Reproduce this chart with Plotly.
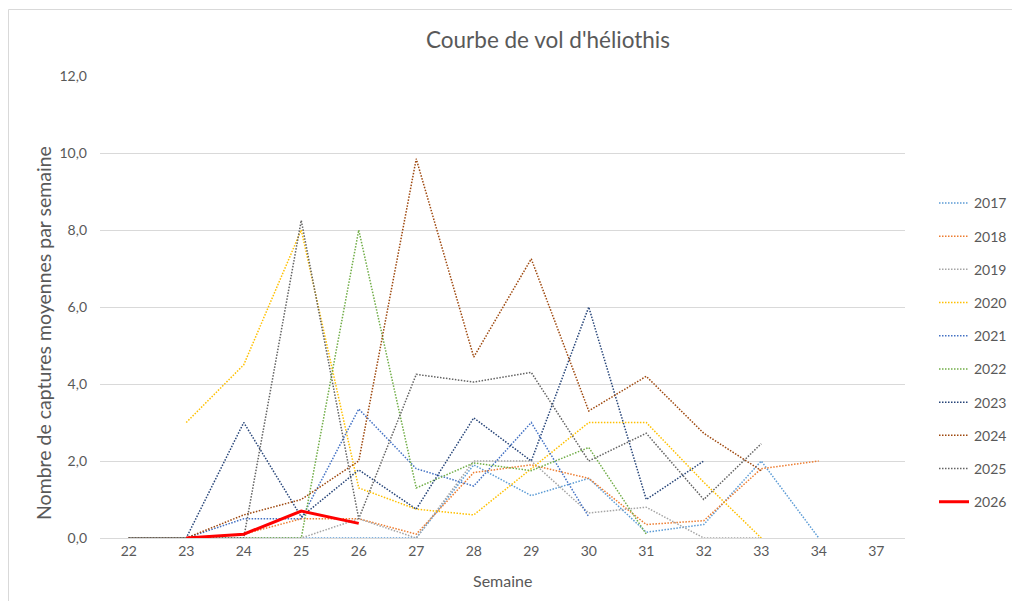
import plotly.graph_objects as go

weeks = ["22", "23", "24", "25", "26", "27", "28", "29", "30", "31", "32", "33", "34", "37"]

y2017 = [0, 0, 0, 0, 0, 0, 1.9, 1.1, 1.55, 0.15, 0.35, 2.0, 0, None]
y2018 = [0, 0, 0.1, 0.5, 0.5, 0.1, 1.7, 1.9, 1.55, 0.35, 0.45, 1.8, 2.0, None]
y2019 = [0, 0, 0, 0, 0.5, 0, 2.0, 2.0, 0.65, 0.8, 0, 0, None, None]
y2020 = [None, 3.0, 4.5, 8.0, 1.3, 0.75, 0.6, 1.8, 3.0, 3.0, 1.45, 0, None, None]
y2021 = [0, 0, 0.5, 0.5, 3.35, 1.8, 1.35, 3.0, 0.55, None, None, None, None, None]
y2022 = [0, 0, 0, 0, 8.0, 1.3, 1.95, 1.75, 2.35, 0.1, None, None, None, None]
y2023 = [0, 0, 3.0, 0.55, 1.77, 0.75, 3.12, 2.0, 6.0, 1.0, 2.0, None, None, None]
y2024 = [0, 0, 0.6, 1.0, 2.0, 9.85, 4.7, 7.25, 3.3, 4.2, 2.72, 1.75, None, None]
y2025 = [0, 0, 0, 8.25, 0.5, 4.25, 4.05, 4.3, 2.0, 2.72, 1.0, 2.45, None, None]
y2026 = [None, 0, 0.1, 0.7, 0.38, None, None, None, None, None, None, None, None, None]

series = [
    ("2017", y2017, "#5B9BD5"),
    ("2018", y2018, "#ED7D31"),
    ("2019", y2019, "#A5A5A5"),
    ("2020", y2020, "#FFC000"),
    ("2021", y2021, "#4472C4"),
    ("2022", y2022, "#70AD47"),
    ("2023", y2023, "#264478"),
    ("2024", y2024, "#9E480E"),
    ("2025", y2025, "#636363"),
]

FONT = "Lato"
GREY = "#595959"

# figure is offset by the page's 8px body margin; work in figure coordinates
W, H = 1004, 593
L, T, PW, PH = 92, 68, 805, 462
R = W - L - PW
B = H - T - PH


def px(xf):
    return (xf - L) / PW


def py(yf):
    return (T + PH - yf) / PH


fig = go.Figure()
for name, ys, col in series:
    fig.add_trace(go.Scatter(
        x=weeks, y=ys, name=name, mode="lines", legendgroup=name,
        line=dict(color=col, width=1.5, dash="1.5px,1.5px"), connectgaps=False,
    ))
fig.add_trace(go.Scatter(
    x=weeks, y=y2026, name="2026", mode="lines", legendgroup="2026",
    line=dict(color="#FF0000", width=3), connectgaps=False,
))

fig.update_layout(
    width=W, height=H,
    paper_bgcolor="white", plot_bgcolor="white",
    margin=dict(l=L, r=R, t=T, b=B, autoexpand=False),
    separators=",.",
    font=dict(family=FONT, color=GREY, size=14),
    title=dict(text="Courbe de vol d'héliothis", x=540 / W, xref="container", xanchor="center",
               y=1 - 32 / H, yref="container", yanchor="middle",
               font=dict(family=FONT, size=22.5, color=GREY)),
    xaxis=dict(type="category", categoryorder="array", categoryarray=weeks,
               range=[-0.5, len(weeks) - 0.5], showgrid=False, showline=True,
               linecolor="#D9D9D9", linewidth=1, ticks="", zeroline=False,
               tickfont=dict(family=FONT, size=14, color=GREY)),
    yaxis=dict(range=[0, 12], dtick=2, tickformat=".1f", showgrid=True,
               gridcolor="#D9D9D9", gridwidth=1, zeroline=False, showline=False,
               ticks="", ticklabelstandoff=12,
               tickfont=dict(family=FONT, size=14, color=GREY)),
    legend=dict(x=px(926), xanchor="left", y=0.759, yanchor="top",
                tracegroupgap=12, font=dict(family=FONT, size=14, color=GREY),
                bgcolor="rgba(0,0,0,0)"),
    showlegend=True,
    annotations=[
        dict(text="Nombre de captures moyennes par semaine", textangle=-90,
             xref="paper", yref="paper", x=px(35), y=py(325),
             xanchor="center", yanchor="middle", showarrow=False,
             font=dict(family=FONT, size=19.5, color=GREY)),
        dict(text="Semaine", xref="paper", yref="paper", x=0.5, y=py(572),
             xanchor="center", yanchor="middle", showarrow=False,
             font=dict(family=FONT, size=16, color=GREY)),
    ],
    shapes=[
        dict(type="rect", xref="paper", yref="paper",
             x0=px(0.5), x1=px(W + 20), y0=py(H + 20), y1=py(1.5),
             line=dict(color="#D9D9D9", width=1), fillcolor="rgba(0,0,0,0)", layer="below"),
    ],
)

fig.write_html("out.html")
